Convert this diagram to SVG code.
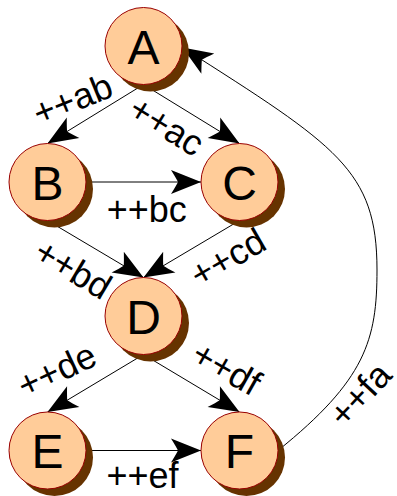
<svg xmlns="http://www.w3.org/2000/svg" width="397" height="496" viewBox="0 0 397 496">
<style>
.shadow{fill:#663300;stroke:none}
.node{fill:#ffcc99;stroke:#990000;stroke-width:1}
.nl{font-family:"Liberation Sans",Arial,sans-serif;font-size:48px;fill:#000;text-anchor:middle}
.el{font-family:"Liberation Sans",Arial,sans-serif;font-size:36px;fill:#000;text-anchor:middle}
.edge{fill:none;stroke:#000;stroke-width:1;marker-end:url(#arr)}
</style>
<defs>
<marker id="arr" markerUnits="userSpaceOnUse" orient="auto" refX="0" refY="0" markerWidth="40" markerHeight="30" viewBox="-32 -15 40 30" overflow="visible">
<path d="M0,0 L-30,-12 Q-25,-4 -23,0 Q-25,4 -30,12 Z" fill="#000"/>
</marker>
</defs>
<g id="connectors">
<path class="edge" d="M143.5,84.5 L47.5,143.5"/>
<path class="edge" d="M143.5,84.5 L239.5,143.5"/>
<path class="edge" d="M86,182 L201,182"/>
<path class="edge" d="M47.5,220.5 L143.5,277.5"/>
<path class="edge" d="M239.5,220.5 L143.5,277.5"/>
<path class="edge" d="M143.5,354.5 L47.5,412"/>
<path class="edge" d="M143.5,354.5 L239.5,412"/>
<path class="edge" d="M86,450.5 L201,450.5"/>
<path class="edge" d="M278,450.5 C365.5,380 377,340 377,270 C377,170 337,146 182.5,47.5"/>
<text class="el" transform="translate(77.2,110.9) rotate(-22)">++ab</text>
<text class="el" transform="translate(160.1,136.5) rotate(31.6)">++ac</text>
<text class="el" x="146.7" y="222">++bc</text>
<text class="el" transform="translate(66.7,279.7) rotate(30.7)">++bd</text>
<text class="el" transform="translate(233.9,268.3) rotate(-30)">++cd</text>
<text class="el" transform="translate(62,381.4) rotate(-25)">++de</text>
<text class="el" transform="translate(220.5,379.3) rotate(29.4)">++df</text>
<text class="el" x="142.5" y="488">++ef</text>
<text class="el" transform="translate(369,403) rotate(-47)">++fa</text>
</g>
<g id="A"><circle class="shadow" cx="150.5" cy="53" r="38.5"/><circle class="node" cx="143.5" cy="46" r="38.5"/><text class="nl" x="143.5" y="63.5">A</text></g>
<g id="B"><circle class="shadow" cx="54.5" cy="189" r="38.5"/><circle class="node" cx="47.5" cy="182" r="38.5"/><text class="nl" x="47.5" y="199.5">B</text></g>
<g id="C"><circle class="shadow" cx="246.5" cy="189" r="38.5"/><circle class="node" cx="239.5" cy="182" r="38.5"/><text class="nl" x="239.5" y="199.5">C</text></g>
<g id="D"><circle class="shadow" cx="150.5" cy="323" r="38.5"/><circle class="node" cx="143.5" cy="316" r="38.5"/><text class="nl" x="143.5" y="333.5">D</text></g>
<g id="E"><circle class="shadow" cx="54.5" cy="457.5" r="38.5"/><circle class="node" cx="47.5" cy="450.5" r="38.5"/><text class="nl" x="47.5" y="468">E</text></g>
<g id="F"><circle class="shadow" cx="246.5" cy="457.5" r="38.5"/><circle class="node" cx="239.5" cy="450.5" r="38.5"/><text class="nl" x="239.5" y="468">F</text></g>
</svg>
